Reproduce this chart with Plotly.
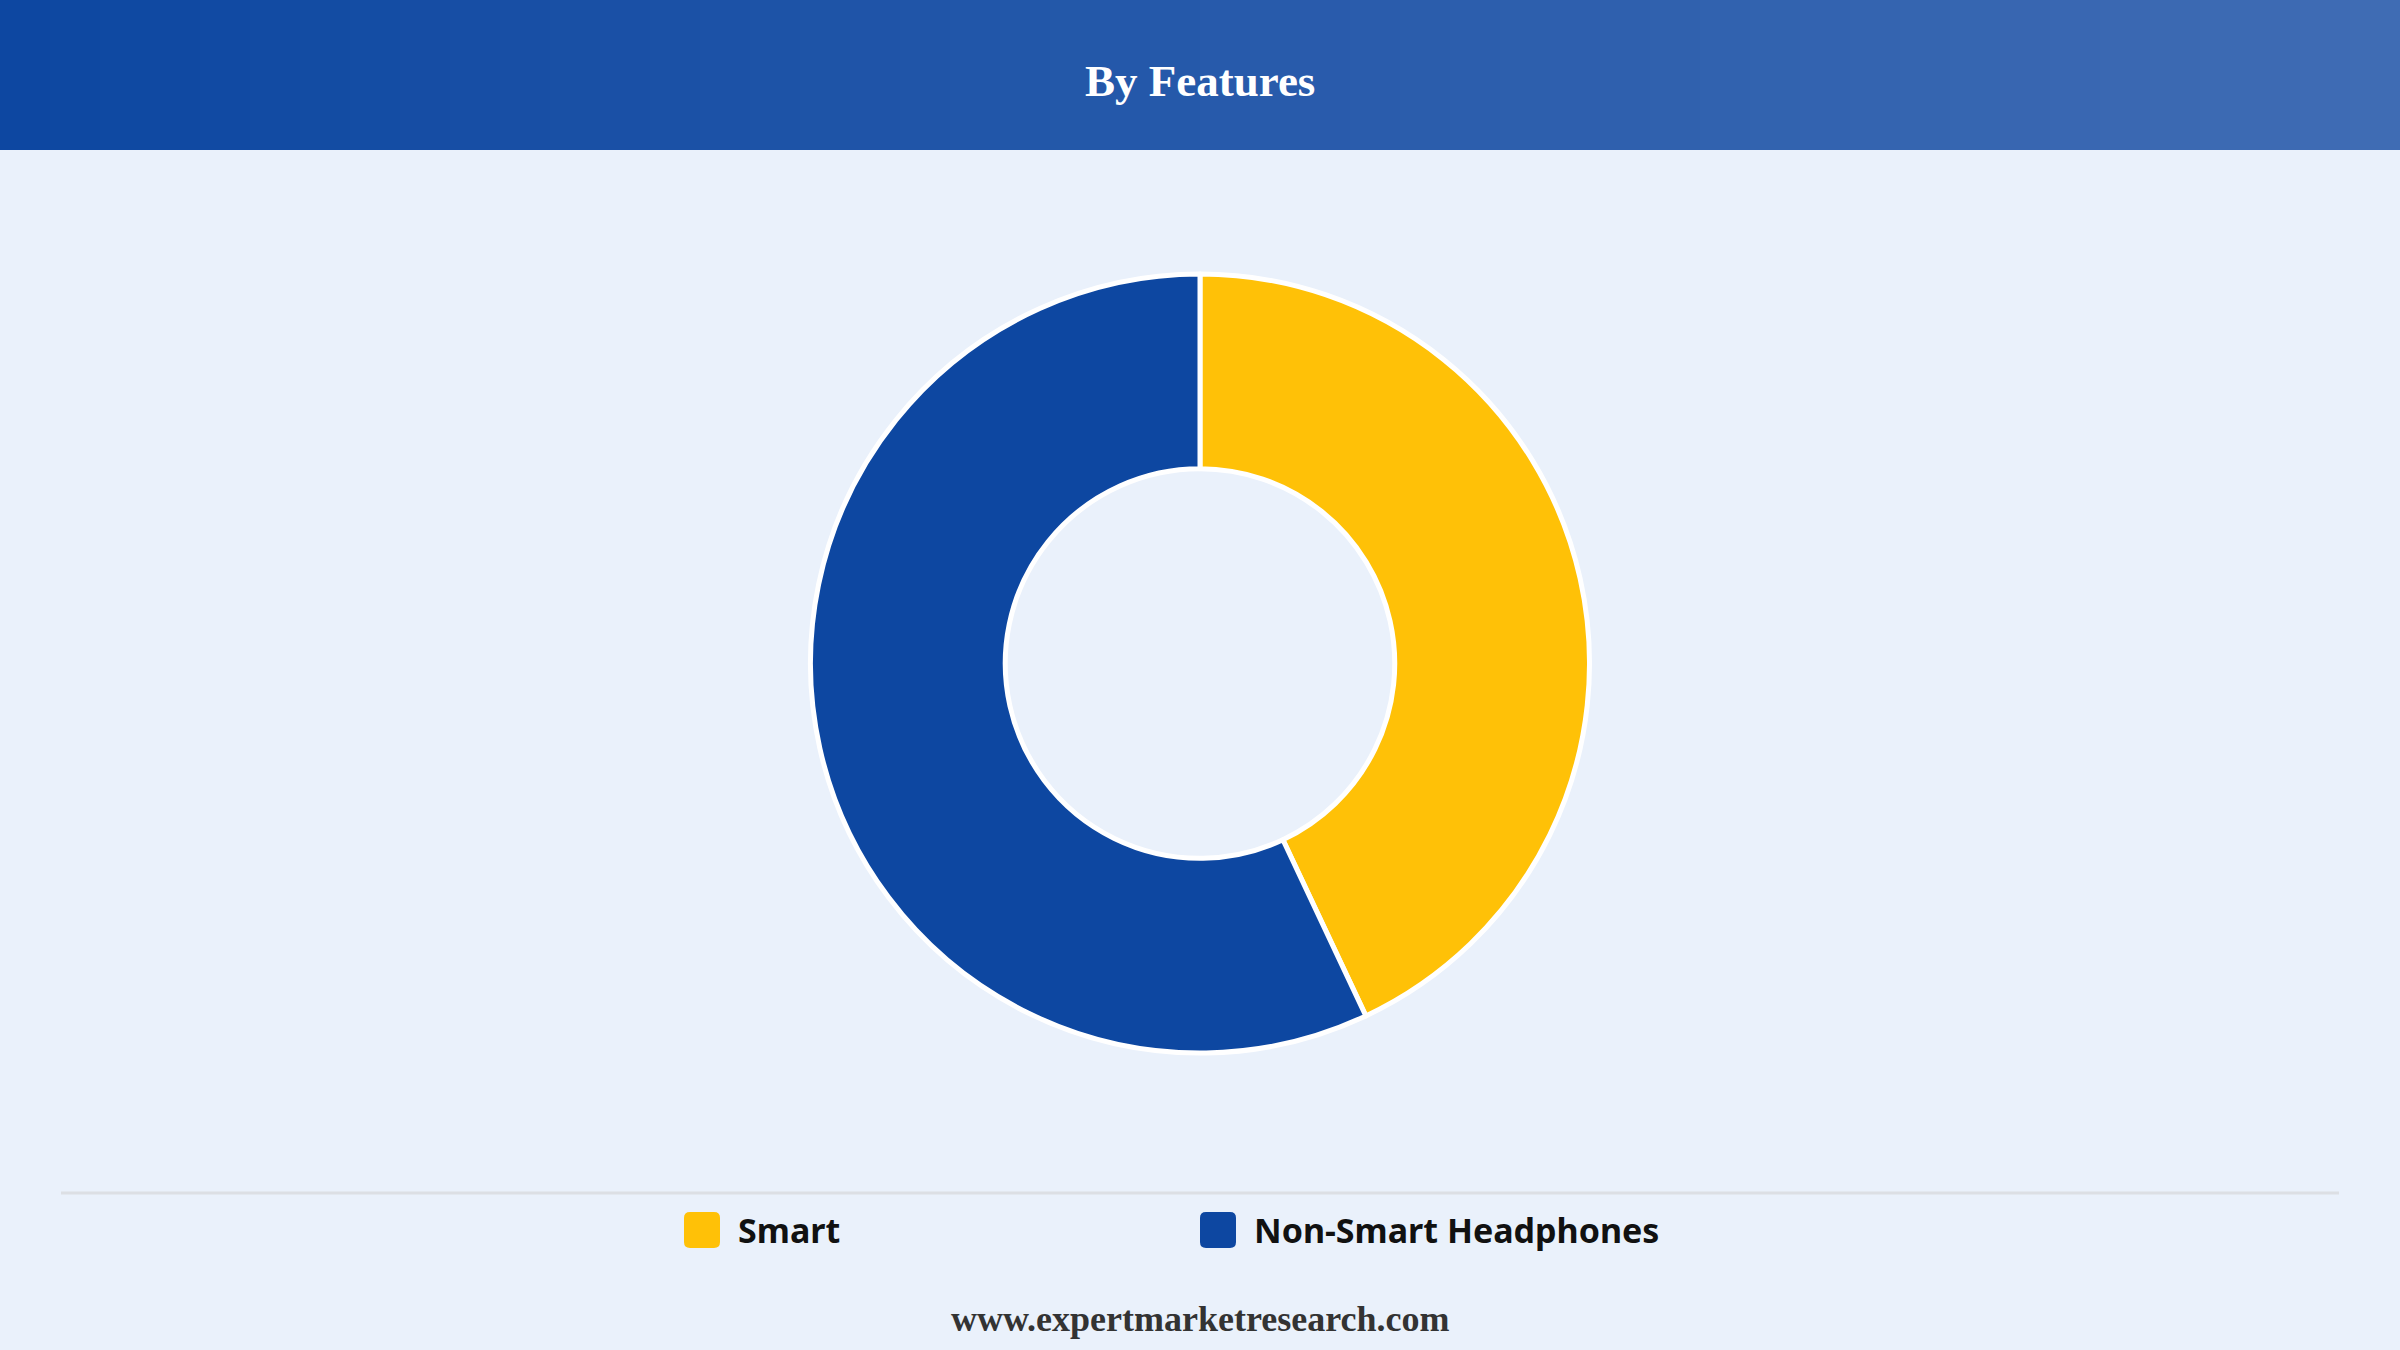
import plotly.graph_objects as go

# data
labels = ["Smart", "Non-Smart Headphones"]
values = [43, 57]
colors = ["#FFC107", "#0D47A1"]

title = "By Features"
footer = "www.expertmarketresearch.com"

W, H = 2400, 1350
bg = "#EAF1FB"

fig = go.Figure()

fig.add_trace(go.Pie(
    labels=labels,
    values=values,
    hole=0.5,
    sort=False,
    direction="clockwise",
    rotation=0,
    textinfo="none",
    hoverinfo="label+percent",
    marker=dict(colors=colors, line=dict(color="white", width=5)),
    domain=dict(x=[0.3, 0.7], y=[1 - 1053 / H, 1 - 274 / H]),
    showlegend=False,
))

shapes = []

# header band, stepped gradient
c0 = (13, 71, 161)
c1 = (63, 108, 180)
n = 48
for i in range(n):
    t = i / (n - 1)
    col = tuple(round(c0[k] + (c1[k] - c0[k]) * t) for k in range(3))
    shapes.append(dict(
        type="rect", xref="paper", yref="paper",
        x0=i / n, x1=(i + 1) / n + 0.001, y0=1 - 150 / H, y1=1,
        fillcolor="rgb(%d,%d,%d)" % col, line=dict(width=0), layer="below",
    ))

# separator line above legend
shapes.append(dict(
    type="line", xref="paper", yref="paper",
    x0=61 / W, x1=2339 / W, y0=1 - 1193 / H, y1=1 - 1193 / H,
    line=dict(color="#DCDFE4", width=3),
))


def rounded_box(x, y, s, r):
    # pixel coords (top-left origin) -> paper path
    def px(v):
        return v / W

    def py(v):
        return 1 - v / H
    return ("M %f,%f L %f,%f Q %f,%f %f,%f L %f,%f Q %f,%f %f,%f L %f,%f "
            "Q %f,%f %f,%f L %f,%f Q %f,%f %f,%f Z") % (
        px(x + r), py(y), px(x + s - r), py(y),
        px(x + s), py(y), px(x + s), py(y + r),
        px(x + s), py(y + s - r),
        px(x + s), py(y + s), px(x + s - r), py(y + s),
        px(x + r), py(y + s),
        px(x), py(y + s), px(x), py(y + s - r),
        px(x), py(y + r),
        px(x), py(y), px(x + r), py(y),
    )


annotations = []
legend_x = [684, 1200]
for lab, col, lx in zip(labels, colors, legend_x):
    shapes.append(dict(
        type="path", xref="paper", yref="paper",
        path=rounded_box(lx, 1212, 36, 6),
        fillcolor=col, line=dict(width=0),
    ))
    annotations.append(dict(
        x=(lx + 52) / W, y=1 - 1230 / H, xref="paper", yref="paper",
        text="<b>%s</b>" % lab, showarrow=False, xanchor="left", yanchor="middle",
        font=dict(family="Noto Sans", size=34, color="#111111"),
    ))

annotations.append(dict(
    x=0.5, y=1 - 81 / H, xref="paper", yref="paper",
    text="<b>%s</b>" % title, showarrow=False, xanchor="center", yanchor="middle",
    font=dict(family="Liberation Serif", size=45, color="white"),
))
annotations.append(dict(
    x=0.5, y=1 - 1319 / H, xref="paper", yref="paper",
    text="<b>%s</b>" % footer, showarrow=False, xanchor="center", yanchor="middle",
    font=dict(family="Liberation Serif", size=36, color="#333333"),
))

fig.update_layout(
    width=W, height=H,
    margin=dict(l=0, r=0, t=0, b=0),
    paper_bgcolor=bg, plot_bgcolor=bg,
    shapes=shapes, annotations=annotations,
    showlegend=False,
)

# drop the page margin so the figure fills the window
fig.write_html("out.html", config={"displayModeBar": False},
               post_script="document.body.style.margin='0';")
